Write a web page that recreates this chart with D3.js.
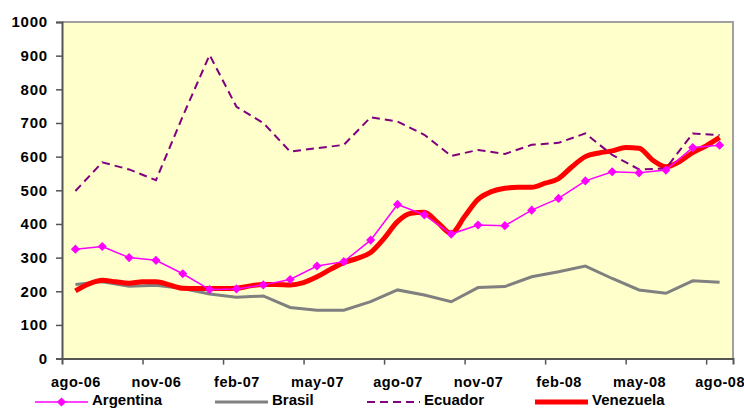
<!DOCTYPE html>
<html>
<head>
<meta charset="utf-8">
<script src="https://cdn.jsdelivr.net/npm/d3@7"></script>
<style>
  body { margin: 0; background: #fff; }
  text { font-family: "Liberation Sans", Arial, sans-serif; font-weight: bold; fill: #000; }
</style>
</head>
<body>
<div id="chart"></div>
<script>
// months on the category axis (ago-06 .. ago-08)
var months = ["ago-06","sep-06","oct-06","nov-06","dic-06","ene-07","feb-07","mar-07","abr-07",
              "may-07","jun-07","jul-07","ago-07","sep-07","oct-07","nov-07","dic-07","ene-08",
              "feb-08","mar-08","abr-08","may-08","jun-08","jul-08","ago-08"];

var argentina = [325,333,300,292,252,205,207,219,235,275,288,352,458,427,370,397,395,441,476,528,555,552,560,627,634];
var brasil    = [220,228,215,218,208,192,182,186,152,144,144,169,204,189,169,211,214,243,258,275,238,204,194,231,227];
var ecuador   = [498,583,562,530,720,902,748,700,615,625,635,717,704,665,602,620,608,635,641,669,605,562,565,669,664];

// venezuela comes every half month
var venezuela = [201,222,233,228,224,228,228,219,209,208,208,208,209,216,220,220,
                 219,226,243,265,285,298,315,357,407,432,435,404,372,422,473,496,
                 506,509,509,521,535,570,600,611,617,627,625,590,570,585,612,632,657];

var yTicks = [0,100,200,300,400,500,600,700,800,900,1000];
var labelEvery = 3;

var width = 744, height = 409;
var plot = {left: 62, right: 733, top: 22, bottom: 358.6};

var svg = d3.select("#chart").append("svg")
    .attr("width", width)
    .attr("height", height);

// index scale, category i sits in the middle of its band
var x = d3.scaleLinear()
    .domain([-0.5, months.length - 0.5])
    .range([plot.left, plot.right]);

var y = d3.scaleLinear()
    .domain([0, 1000])
    .range([plot.bottom, plot.top]);

// plot background
svg.append("rect")
    .attr("x", plot.left)
    .attr("y", plot.top)
    .attr("width", plot.right - plot.left)
    .attr("height", plot.bottom - plot.top)
    .attr("fill", "#FFFFCC");

// top and right border
svg.append("path")
    .attr("d", "M" + plot.left + "," + plot.top + "H" + plot.right + "V" + plot.bottom)
    .attr("fill", "none")
    .attr("stroke", "#a0a0a0")
    .attr("stroke-width", 2);

// y axis
var yAxis = svg.append("g")
    .attr("transform", "translate(" + plot.left + ",0)")
    .call(d3.axisLeft(y).tickValues(yTicks).tickSize(6).tickPadding(8)
        .tickFormat(d3.format("d")));
yAxis.select(".domain").attr("stroke", "#555").attr("stroke-width", 2);
yAxis.selectAll(".tick line").attr("stroke", "#555").attr("stroke-width", 1.5);
yAxis.selectAll("text")
    .style("font-size", "15px")
    .style("letter-spacing", "0.8px");

// x axis tick marks between categories
var boundaries = d3.range(labelEvery - 0.5, months.length - 0.5, labelEvery);
var xTicks = svg.append("g")
    .attr("transform", "translate(0," + plot.bottom + ")")
    .call(d3.axisBottom(x).tickValues(boundaries).tickSize(6).tickFormat(""));
xTicks.select(".domain").attr("stroke", "#555").attr("stroke-width", 2);
xTicks.selectAll(".tick line").attr("stroke", "#555").attr("stroke-width", 1.5);

// x labels at every third month
var labelIdx = d3.range(0, months.length, labelEvery);
var xLabels = svg.append("g")
    .attr("transform", "translate(0," + plot.bottom + ")")
    .call(d3.axisBottom(x).tickValues(labelIdx).tickSize(0).tickPadding(18)
        .tickFormat(i => months[i]));
xLabels.select(".domain").remove();
xLabels.selectAll("text")
    .style("font-size", "14.5px")
    .style("letter-spacing", "0.5px");

var lineMonthly = d3.line()
    .x((d, i) => x(i))
    .y(d => y(d));

var lineHalf = d3.line()
    .x((d, i) => x(i / 2))
    .y(d => y(d))
    .curve(d3.curveMonotoneX);

var styles = {
  Argentina: {color: "#FF00FF", width: 1.5, dash: null},
  Brasil:    {color: "#808080", width: 3, dash: null},
  Ecuador:   {color: "#800080", width: 2, dash: "8,5"},
  Venezuela: {color: "#FF0000", width: 5, dash: null}
};

svg.append("path")
    .datum(brasil)
    .attr("d", lineMonthly)
    .attr("fill", "none")
    .attr("stroke", styles.Brasil.color)
    .attr("stroke-width", styles.Brasil.width);

svg.append("path")
    .datum(venezuela)
    .attr("d", lineHalf)
    .attr("fill", "none")
    .attr("stroke", styles.Venezuela.color)
    .attr("stroke-width", styles.Venezuela.width)
    .attr("stroke-linejoin", "round");

svg.append("path")
    .datum(ecuador)
    .attr("d", lineMonthly)
    .attr("fill", "none")
    .attr("stroke", styles.Ecuador.color)
    .attr("stroke-width", styles.Ecuador.width)
    .attr("stroke-dasharray", styles.Ecuador.dash);

svg.append("path")
    .datum(argentina)
    .attr("d", lineMonthly)
    .attr("fill", "none")
    .attr("stroke", styles.Argentina.color)
    .attr("stroke-width", styles.Argentina.width);

// square turned 45 degrees, like the excel diamond
var diamond = d3.symbol().type(d3.symbolSquare).size(42);

svg.selectAll(".marker")
    .data(argentina)
    .enter().append("path")
    .attr("class", "marker")
    .attr("d", diamond)
    .attr("transform", (d, i) => "translate(" + x(i) + "," + y(d) + ") rotate(45)")
    .attr("fill", styles.Argentina.color);

// legend along the bottom
var legendItems = [
  {name: "Argentina", x: 35},
  {name: "Brasil", x: 215},
  {name: "Ecuador", x: 367},
  {name: "Venezuela", x: 535}
];
var legendY = 402, legendLen = 53;

var legend = svg.selectAll(".legend")
    .data(legendItems)
    .enter().append("g")
    .attr("class", "legend")
    .attr("transform", d => "translate(" + d.x + "," + legendY + ")");

legend.append("line")
    .attr("x1", 0)
    .attr("x2", legendLen)
    .attr("stroke", d => styles[d.name].color)
    .attr("stroke-width", d => styles[d.name].width)
    .attr("stroke-dasharray", d => styles[d.name].dash);

legend.filter(d => d.name == "Argentina").append("path")
    .attr("d", diamond)
    .attr("transform", "translate(" + legendLen / 2 + ",0) rotate(45)")
    .attr("fill", styles.Argentina.color);

legend.append("text")
    .attr("x", legendLen + 4)
    .attr("y", 3)
    .style("font-size", "15px")
    .text(d => d.name);
</script>
</body>
</html>
